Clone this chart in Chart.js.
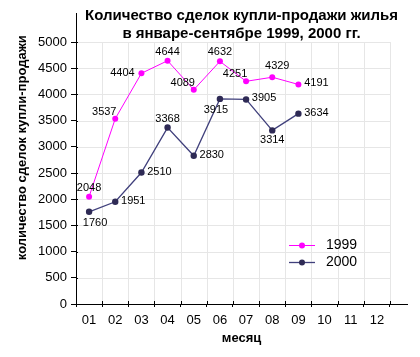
<!DOCTYPE html>
<html><head><meta charset="utf-8">
<script src="https://cdn.jsdelivr.net/npm/chart.js@4.4.1/dist/chart.umd.min.js"></script>
<style>html,body{margin:0;padding:0;background:#fff}canvas{display:block}</style>
</head><body>
<canvas id="c" width="420" height="357"></canvas>
<script>
const months = ['01','02','03','04','05','06','07','08','09','10','11','12'];
const yTicks = [0,500,1000,1500,2000,2500,3000,3500,4000,4500,5000];
const series1999 = [2048,3537,4404,4644,4089,4632,4251,4329,4191];
const series2000 = [1760,1951,2510,3368,2830,3915,3905,3314,3634];
const seriesNames = ['1999','2000'];
const titleLines = ['Количество сделок купли-продажи жилья','в январе-сентябре 1999, 2000 гг.'];
const xTitle = 'месяц';
const yTitle = 'количество сделок купли-продажи';

// label placement styles per point
const place1999 = ['N','NW','W','N','NW','N','NW','NE','E'];
const place2000 = ['SE','E','E','N','E','SW','E','S','E'];
const placeOffsets = {N:[0,-9],S:[0,10],E:[18,-1],W:[-19,0],NW:[-11,-7],NE:[5,-11],SE:[6,11],SW:[-4,11]};

const FONT = '"Liberation Sans", Arial, sans-serif';
const toPts = arr => arr.map((v,i)=>({x:i+1,y:v}));

const gridPlugin = {
  id:'gridPlugin',
  beforeDatasetsDraw(chart){
    const {ctx} = chart; const xs = chart.scales.x, ys = chart.scales.y;
    const top = ys.getPixelForValue(yTicks[yTicks.length-1]);
    const bot = ys.getPixelForValue(0);
    const left = xs.getPixelForValue(0.5);
    const right = xs.getPixelForValue(months.length+0.5);
    ctx.save();
    ctx.strokeStyle = '#e6e6e6'; ctx.lineWidth = 1;
    ctx.beginPath();
    for(let k=1;k<=months.length;k++){
      const x = Math.round(xs.getPixelForValue(k+0.5))+0.5;
      ctx.moveTo(x,top); ctx.lineTo(x,bot);
    }
    yTicks.forEach(v=>{ if(v===0) return;
      const y = Math.round(ys.getPixelForValue(v))+0.5;
      ctx.moveTo(left+1,y); ctx.lineTo(right,y);
    });
    ctx.stroke();
    // inner parts of tick marks
    ctx.strokeStyle = '#000';
    ctx.beginPath();
    for(let k=1;k<=months.length;k++){
      const x = Math.round(xs.getPixelForValue(k+0.5))+0.5;
      ctx.moveTo(x,bot-3); ctx.lineTo(x,bot);
    }
    yTicks.forEach(v=>{
      const y = Math.round(ys.getPixelForValue(v))+0.5;
      ctx.moveTo(left,y); ctx.lineTo(left+2,y);
    });
    ctx.stroke();
    ctx.restore();
  }
};

const labelPlugin = {
  id:'labelPlugin',
  afterDatasetsDraw(chart){
    const {ctx} = chart;
    const places = [place1999, place2000];
    ctx.save();
    ctx.font = '11px '+FONT; ctx.fillStyle = '#000';
    ctx.textAlign = 'center'; ctx.textBaseline = 'middle';
    chart.data.datasets.forEach((ds,di)=>{
      const meta = chart.getDatasetMeta(di);
      meta.data.forEach((pt,i)=>{
        const off = placeOffsets[places[di][i]];
        ctx.fillText(String(ds.data[i].y), pt.x+off[0], pt.y+off[1]);
      });
    });
    // legend
    const ca = chart.chartArea;
    chart.data.datasets.forEach((ds,di)=>{
      const y = Math.round(ca.bottom - 59 + di*17)+0.5;
      const x0 = ca.right - 118, x1 = ca.right - 92;
      ctx.strokeStyle = ds.borderColor; ctx.lineWidth = ds.borderWidth;
      ctx.beginPath(); ctx.moveTo(x0,y); ctx.lineTo(x1,y); ctx.stroke();
      ctx.fillStyle = ds.pointBackgroundColor;
      ctx.beginPath(); ctx.arc((x0+x1)/2,y,3,0,Math.PI*2); ctx.fill();
      ctx.fillStyle = '#000'; ctx.font = '14px '+FONT; ctx.textAlign='left';
      ctx.fillText(ds.label, x1+11, y);
    });
    ctx.restore();
  }
};

const axisExt = {
  id:'axisExt',
  afterLayout(chart){
    // title centred over the full axis span
    if(chart.titleBlock){ chart.titleBlock.left = chart.chartArea.left; chart.titleBlock.right = chart.chartArea.right; }
  }
};

new Chart(document.getElementById('c'),{
  type:'line',
  data:{datasets:[
    {label:seriesNames[0],data:toPts(series1999),borderColor:'#ff00ff',backgroundColor:'#ff00ff',pointBackgroundColor:'#ff00ff',pointBorderColor:'#ff00ff',borderWidth:1,pointRadius:3,pointBorderWidth:0,tension:0},
    {label:seriesNames[1],data:toPts(series2000),borderColor:'#40407c',backgroundColor:'#2e2a55',pointBackgroundColor:'#2e2a55',pointBorderColor:'#2e2a55',borderWidth:1.3,pointRadius:3.2,pointBorderWidth:0,tension:0}
  ]},
  options:{
    responsive:false, animation:false,
    layout:{padding:{left:0,right:13,top:0,bottom:0}},
    plugins:{
      legend:{display:false}, tooltip:{enabled:false},
      title:{display:true,text:titleLines,color:'#000',fullSize:false,
        font:{family:FONT,size:15,weight:'bold',lineHeight:'18px'},
        padding:{top:6.5,bottom:-29.5}}
    },
    scales:{
      x:{type:'linear',min:0.5,max:13.15,
        afterBuildTicks:s=>{s.ticks = months.map((m,i)=>({value:i+1}));},
        afterFit:s=>{s.height = 53;},
        grid:{drawOnChartArea:false,offset:true,tickLength:3,tickColor:'#000',color:'#000'},
        border:{color:'#000',width:1},
        ticks:{autoSkip:false,maxRotation:0,padding:6,color:'#000',font:{family:FONT,size:13},callback:v=>months[v-1]},
        title:{display:true,text:xTitle,color:'#000',font:{family:FONT,size:13,weight:'bold'},padding:{top:0,bottom:11}}
      },
      y:{type:'linear',min:0,max:5555,
        afterBuildTicks:s=>{s.ticks = yTicks.map(v=>({value:v}));},
        afterFit:s=>{s.width = 76;},
        grid:{drawOnChartArea:false,tickLength:5,tickColor:'#000',color:'#000'},
        border:{color:'#000',width:1},
        ticks:{padding:4,color:'#000',font:{family:FONT,size:13},callback:v=>String(v)},
        title:{display:true,text:'      '+yTitle,color:'#000',font:{family:FONT,size:13,weight:'bold'},padding:{top:15,bottom:0}}
      }
    }
  },
  plugins:[gridPlugin,labelPlugin,axisExt]
});
</script>
</body></html>
